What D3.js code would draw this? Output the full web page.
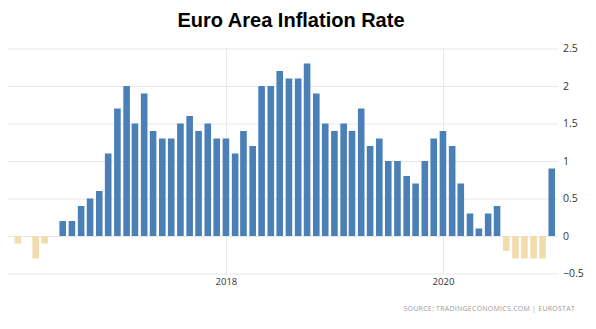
<!DOCTYPE html>
<html>
  <head>
    <meta charset="utf-8">
    <title>Euro Area Inflation Rate</title>
    <script src="https://d3js.org/d3.v7.min.js"></script>
    <style>
      body { margin: 0; background: #fff; }
      #chart { display: block; }
      .title { font: bold 20px "Liberation Sans", Arial, sans-serif; fill: #000; }
      .axis text { font-family: "Open Sans", "DejaVu Sans", sans-serif; fill: #333; }
      .axis path { display: none; }
      .axis line { stroke: #e8e8e8; }
      .source { font: 7px "Open Sans", sans-serif; fill: #9a9a9a; letter-spacing: 0.25px; }
    </style>
  </head>
  <body>
    <svg id="chart" width="596" height="329"></svg>
    <script>
      // monthly annual inflation, Feb 2016 to Jan 2021 (%)
      const firstMonth = new Date(2016, 1, 1);
      const rates = [
        -0.1, 0, -0.3, -0.1, 0, 0.2, 0.2, 0.4, 0.5, 0.6, 1.1,
        1.7, 2.0, 1.5, 1.9, 1.4, 1.3, 1.3, 1.5, 1.6, 1.4, 1.5, 1.3,
        1.3, 1.1, 1.4, 1.2, 2.0, 2.0, 2.2, 2.1, 2.1, 2.3, 1.9, 1.5,
        1.4, 1.5, 1.4, 1.7, 1.2, 1.3, 1.0, 1.0, 0.8, 0.7, 1.0, 1.3,
        1.4, 1.2, 0.7, 0.3, 0.1, 0.3, 0.4, -0.2, -0.3, -0.3, -0.3, -0.3,
        0.9
      ];
      const yTicks = [-0.5, 0, 0.5, 1, 1.5, 2, 2.5];
      const xTicks = ["2018", "2020"];

      const data = rates.map(function(v, i) {
        return { month: d3.timeMonth.offset(firstMonth, i), value: v };
      });

      const margin = { top: 48.5, right: 38, bottom: 55.5, left: 8 };
      const width = 596, height = 329;
      const chart = d3.select("#chart");

      const x = d3.scaleTime()
        .domain([new Date(2015, 11, 30), new Date(2021, 0, 22)])
        .range([margin.left, width - margin.right]);
      const y = d3.scaleLinear()
        .domain([-0.5, 2.5])
        .range([height - margin.bottom, margin.top]);
      const barWidth = 6.6;

      // gridlines and labels
      chart.append("g")
        .attr("class", "axis")
        .attr("transform", "translate(" + (width - margin.right) + ",0)")
        .call(d3.axisRight(y)
          .tickValues(yTicks)
          .tickSizeInner(margin.left + margin.right - width)
          .tickPadding(5)
          .tickFormat(d3.format("")))
        .call(function(g) { g.selectAll("text").attr("font-size", 10.5).attr("x", 5); });

      chart.append("g")
        .attr("class", "axis")
        .attr("transform", "translate(0," + (height - margin.bottom) + ")")
        .call(d3.axisBottom(x)
          .tickValues(xTicks.map(function(d) { return new Date(+d, 0, 1); }))
          .tickSizeInner(margin.top + margin.bottom - height)
          .tickPadding(4)
          .tickFormat(d3.timeFormat("%Y")))
        .call(function(g) {
          g.selectAll("line").attr("stroke", "#ededed");
          g.selectAll("text").attr("font-size", 9.5).attr("y", 5);
        });

      // bars
      chart.append("g")
        .selectAll("rect")
        .data(data)
        .join("rect")
          .attr("x", function(d) { return x(d.month) - barWidth / 2; })
          .attr("y", function(d) { return y(Math.max(0, d.value)); })
          .attr("width", barWidth)
          .attr("height", function(d) { return Math.abs(y(d.value) - y(0)); })
          .attr("fill", function(d) { return d.value < 0 ? "#f2dcae" : "#4a80b6"; });

      chart.append("text")
        .attr("class", "title")
        .attr("x", 291)
        .attr("y", 27)
        .attr("text-anchor", "middle")
        .text("Euro Area Inflation Rate");

      chart.append("text")
        .attr("class", "source")
        .attr("x", 575)
        .attr("y", 311)
        .attr("text-anchor", "end")
        .text("SOURCE:  TRADINGECONOMICS.COM  |  EUROSTAT");
    </script>
  </body>
</html>
